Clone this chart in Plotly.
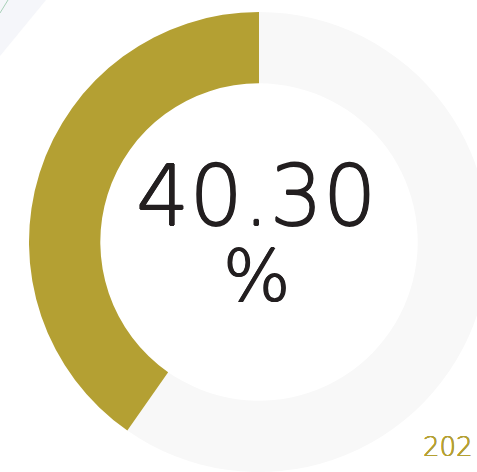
import plotly.graph_objects as go

# share shown as a progress ring; the remainder is listed first so the
# achieved slice runs counterclockwise from 12 o'clock
labels = ["Remaining", "Achieved"]
values = [59.70, 40.30]
colors = ["#F8F8F8", "#B4A033"]
center_value = "40.30"
center_unit = "%"
year_label = "202"

W, H = 490, 472
ML, MR, MT, MB = 29, 1, 12, 0
PW, PH = W - ML - MR, H - MT - MB


def px(x):
    return (x - ML) / PW


def py(y):
    return 1 - (y - MT) / PH


def halo(color, d):
    # small outline that thickens the extra-light strokes a little
    return ", ".join(f"{a}px {b}px 0 {color}" for a, b in
                     [(d, 0), (-d, 0), (0, d), (0, -d)])


fig = go.Figure(
    go.Pie(
        labels=labels,
        values=values,
        hole=0.69,
        sort=False,
        direction="counterclockwise",
        rotation=0,
        marker=dict(colors=colors, line=dict(width=0)),
        textinfo="none",
        hoverinfo="label+value",
        showlegend=False,
    )
)

font_family = "'DejaVu Sans', sans-serif"
ink = "#231F20"
gold = "#B4A033"

fig.add_annotation(
    text=center_value, x=px(256), y=py(196), xref="paper", yref="paper",
    showarrow=False, xanchor="center", yanchor="middle", height=70,
    font=dict(family=font_family, size=84, color=ink, weight=200,
              shadow=halo(ink, 0.7)),
)
fig.add_annotation(
    text=center_unit, x=px(256), y=py(276), xref="paper", yref="paper",
    showarrow=False, xanchor="center", yanchor="middle", height=60,
    font=dict(family=font_family, size=71, color=ink, weight=200,
              shadow=halo(ink, 0.7)),
)
fig.add_annotation(
    text=year_label, x=px(421), y=py(447), xref="paper", yref="paper",
    showarrow=False, xanchor="left", yanchor="middle",
    font=dict(family=font_family, size=26, color=gold, weight=200,
              shadow=halo(gold, 0.3)),
)

# faint decorative corner
fig.add_shape(type="path", xref="paper", yref="paper",
              path=f"M {px(0)},{py(0)} L {px(46)},{py(0)} L {px(0)},{py(56)} Z",
              fillcolor="#F5F6FA", line=dict(width=0), layer="below")
fig.add_shape(type="line", xref="paper", yref="paper",
              x0=px(0), y0=py(13), x1=px(8), y1=py(0),
              line=dict(color="#A8D0B8", width=1))

fig.update_layout(
    width=W, height=H,
    margin=dict(l=ML, r=MR, t=MT, b=MB),
    paper_bgcolor="white",
    plot_bgcolor="white",
)

fig.write_html("out.html", post_script="document.body.style.overflow='hidden';document.body.style.margin='0';")
